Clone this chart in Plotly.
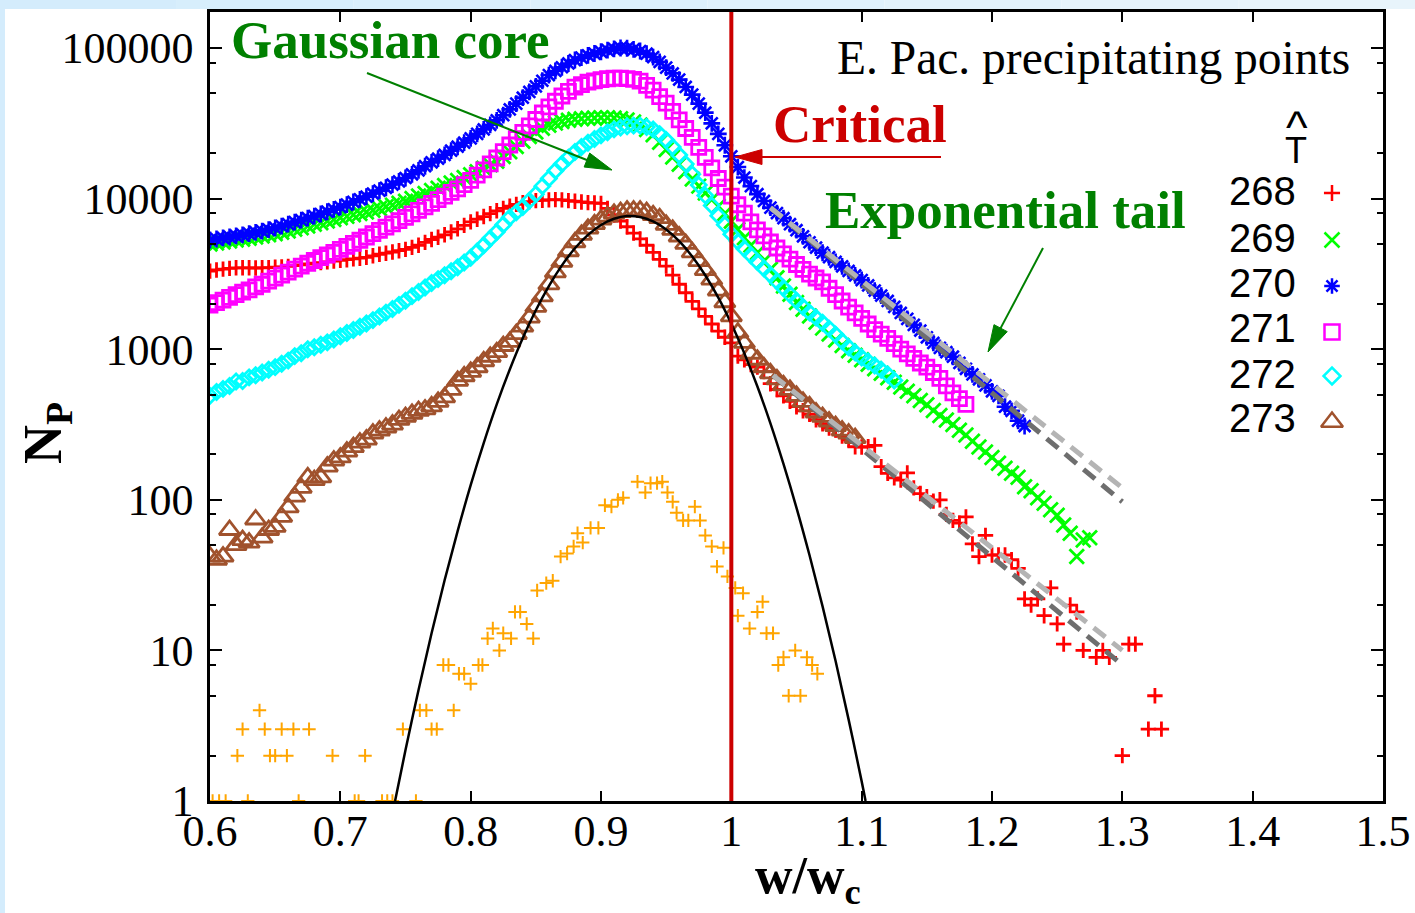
import math
import plotly.graph_objects as go

# ---------------------------------------------------------------------------
# Data: number of precipitating points N_P per w/w_c bin, one list per T-hat
# ---------------------------------------------------------------------------
w_bins = [round(0.6 + 0.005 * i, 3) for i in range(147)]

n_268 = [
    3300, 3360, 3400, 3440, 3470, 3470, 3470, 3460, 3470, 3480,
    3500, 3520, 3550, 3590, 3630, 3680, 3720, 3760, 3800, 3850,
    3890, 3930, 3980, 4020, 4070, 4170, 4270, 4340, 4420, 4510,
    4600, 4740, 4900, 5120, 5350, 5540, 5750, 6010, 6300, 6640,
    7000, 7300, 7600, 7950, 8300, 8600, 8900, 9150, 9400, 9550,
    9700, 9750, 9800, 9850, 9800, 9700, 9600, 9500, 9400, 9350,
    9300, 8600, 7800, 7100, 6500, 5900, 5400, 4900, 4400, 3950,
    3560, 3100, 2700, 2370, 2080, 1850, 1650, 1470, 1320, 1200,
    1100, 900, 850, 790, 760, 710, 590, 540, 490, 450,
    415, 390, 370, 340, 320, 300, 290, 265, 250, 225,
    224, 225, 230, 166, 150, 140, 135, 151, 120, 110,
    105, 98, 100, 80, 73, 70, 77, 51, 42, 58,
    43, 43, 43, 40, 35, 22, 20, 22, 17, 26,
    15, 11, 20, 18, 10, None, 9, 10, 9, None,
    2, 11, 11, None, 3, 5, 3,
]

n_269 = [
    5000, 5080, 5150, 5220, 5300, 5370, 5450, 5550, 5650, 5750,
    5850, 5970, 6100, 6250, 6400, 6570, 6750, 6920, 7100, 7270,
    7450, 7620, 7800, 7970, 8150, 8370, 8600, 8820, 9050, 9320,
    9600, 10000, 10400, 10800, 11300, 11700, 12200, 12700, 13200, 13800,
    14400, 15100, 15900, 16800, 17700, 19000, 20500, 22200, 24000, 25800,
    27700, 29300, 30700, 31700, 32500, 33100, 33600, 33900, 34200, 34300,
    34400, 34400, 34300, 33900, 33300, 32200, 30800, 28800, 26500, 23700,
    21200, 18900, 16900, 15100, 13500, 12100, 10900, 9850, 8910, 7950,
    7080, 6240, 5500, 4900, 4370, 3850, 3390, 2980, 2630, 2320,
    2040, 1840, 1660, 1510, 1380, 1260, 1150, 1060, 977, 912,
    851, 794, 741, 692, 646, 603, 562, 525, 490, 457,
    427, 392, 363, 339, 316, 290, 269, 245, 224, 208,
    191, 175, 162, 150, 141, 122, 115, 103, 95, 86,
    79, 68, 60, 42, 54, 56,
]

n_270 = [
    5310, 5390, 5480, 5560, 5650, 5750, 5850, 5960, 6080, 6220,
    6380, 6570, 6770, 6980, 7190, 7410, 7640, 7900, 8180, 8480,
    8790, 9130, 9510, 9890, 10300, 10800, 11300, 11800, 12400, 13000,
    13700, 14500, 15400, 16400, 17400, 18400, 19500, 20800, 22100, 23500,
    25100, 26900, 28800, 30900, 33100, 35800, 39100, 42700, 46800, 51100,
    55600, 60600, 66100, 70400, 74500, 78900, 83200, 86300, 89200, 91900,
    94400, 96800, 98800, 100000, 99600, 97900, 95500, 91700, 87100, 80900,
    74100, 67800, 61700, 55100, 49000, 42700, 37200, 31600, 26900, 22600,
    19100, 16200, 13800, 12100, 10700, 9640, 8710, 8020, 7410, 6760,
    6170, 5620, 5130, 4730, 4370, 4080, 3800, 3550, 3310, 3090,
    2880, 2650, 2450, 2270, 2090, 1910, 1740, 1590, 1450, 1330,
    1200, 1100, 1020, 955, 891, 810, 741, 680, 631, 575,
    525, 490, 415, 390, 335, 309,
]

n_271 = [
    1960, 2040, 2120, 2210, 2300, 2390, 2480, 2590, 2700, 2830,
    2960, 3100, 3250, 3400, 3560, 3720, 3880, 4050, 4220, 4400,
    4600, 4810, 5040, 5290, 5560, 5850, 6160, 6470, 6800, 7140,
    7500, 7910, 8350, 8810, 9300, 9840, 10400, 11000, 11600, 12400,
    13200, 14300, 15500, 17000, 18600, 20500, 22700, 25000, 27500, 30400,
    33500, 37000, 40700, 44300, 48000, 51500, 55000, 57200, 59300, 60500,
    61700, 62500, 63000, 63100, 62600, 61800, 60300, 56500, 52500, 47600,
    43000, 37900, 33300, 29200, 25500, 21900, 18800, 16000, 13600, 11900,
    10400, 9100, 8000, 7000, 6200, 5650, 5150, 4700, 4300, 3960,
    3650, 3390, 3150, 2970, 2800, 2540, 2300, 2090, 1900, 1740,
    1600, 1470, 1350, 1260, 1180, 1090, 1000, 930, 870, 810,
    760, 700, 640, 570, 513, 470, 430,
]

n_272 = [
    490, 520, 545, 570, 610, 615, 650, 672, 700, 730,
    760, 800, 840, 900, 940, 1000, 1030, 1070, 1110, 1160,
    1220, 1280, 1340, 1410, 1480, 1560, 1650, 1750, 1850, 1970,
    2100, 2250, 2400, 2570, 2750, 2920, 3100, 3290, 3500, 3760,
    4050, 4450, 4900, 5430, 6000, 6700, 7500, 8100, 8800, 9700,
    10700, 12100, 13600, 15300, 17000, 18700, 20400, 22000, 23500, 24900,
    26300, 27600, 28800, 29600, 30200, 30500, 30500, 29900, 28800, 26800,
    24500, 22000, 19500, 17000, 14500, 12300, 10500, 9000, 7700, 6700,
    5800, 5180, 4650, 4200, 3800, 3440, 3120, 2820, 2550, 2310,
    2100, 1910, 1750, 1620, 1500, 1370, 1250, 1130, 1030, 950,
    880, 830, 780, 730, 680, 620,
]

n_273 = [
    42, 40, 42, 63, 50, 54, 52, 74, 56, 63,
    66, 77, 89, 105, 120, 141, 135, 141, 166, 182,
    191, 209, 224, 240, 251, 275, 288, 302, 316, 339,
    355, 372, 389, 398, 417, 447, 479, 537, 617, 661,
    708, 759, 832, 891, 955, 1050, 1120, 1260, 1410, 1620,
    1910, 2240, 2690, 3240, 3800, 4470, 5130, 5750, 6310, 6760,
    7240, 7590, 7940, 8130, 8320, 8320, 8320, 8130, 7760, 7410,
    6700, 6200, 5600, 5000, 4400, 3850, 3350, 2900, 2450, 2050,
    1650, 1290, 1100, 933, 851, 759, 692, 631, 575, 537,
    490, 447, 417, 380, 355, 331, 309, 288, 275, 257,
]

# sparse sample (no legend entry)
extra_w = [
    0.602, 0.607, 0.612, 0.621, 0.625, 0.629, 0.638, 0.642, 0.646, 0.650,
    0.655, 0.659, 0.664, 0.668, 0.676, 0.694, 0.711, 0.714, 0.719, 0.732,
    0.736, 0.740, 0.748, 0.758, 0.761, 0.766, 0.770, 0.774, 0.779, 0.783,
    0.787, 0.791, 0.795, 0.800, 0.806, 0.809, 0.813, 0.817, 0.822, 0.825,
    0.831, 0.834, 0.838, 0.843, 0.848, 0.851, 0.858, 0.863, 0.869, 0.874,
    0.879, 0.882, 0.886, 0.892, 0.898, 0.903, 0.908, 0.913, 0.917, 0.928,
    0.934, 0.938, 0.943, 0.947, 0.951, 0.955, 0.958, 0.963, 0.967, 0.972,
    0.976, 0.980, 0.985, 0.989, 0.994, 0.997, 1.003, 1.005, 1.009, 1.014,
    1.020, 1.024, 1.027, 1.032, 1.036, 1.040, 1.044, 1.049, 1.053, 1.058,
    1.062, 1.066,
]
extra_n = [
    1, 1, 1, 2, 3, 1, 4, 3, 2, 2,
    3, 2, 3, 1, 3, 2, 1, 1, 2, 1,
    1, 1, 3, 1, 4, 4, 3, 3, 8, 8,
    4, 7, 7, 6, 8, 8, 12, 14, 10, 13,
    12, 18, 18, 15, 12, 25, 28, 29, 42, 44,
    49, 60, 52, 65, 65, 92, 90, 100, 103, 132,
    112, 129, 129, 132, 112, 97, 82, 73, 73, 90,
    73, 58, 49, 36, 48, 31, 26, 17, 24, 14,
    18, 21, 13, 13, 8, 9, 5, 10, 5, 9,
    8, 7,
]

# Gaussian core (parabola in log N), sampled
gauss_w = [0.742, 0.75, 0.76, 0.77, 0.78, 0.79, 0.80, 0.81, 0.82, 0.83,
           0.84, 0.85, 0.86, 0.87, 0.88, 0.89, 0.90, 0.91, 0.92, 0.93,
           0.94, 0.95, 0.96, 0.97, 0.98, 0.99, 1.00, 1.01, 1.02, 1.03,
           1.04, 1.05, 1.06, 1.07, 1.08, 1.09, 1.10, 1.103]
gauss_n = [1.0, 2.18, 5.46, 13.0, 29.2, 62, 125, 238, 430, 733,
           1186, 1814, 2626, 3602, 4677, 5741, 6683, 7350, 7660, 7551,
           7056, 6237, 5215, 4130, 3097, 2198, 1476, 938, 565, 322,
           173, 88.5, 42.8, 19.6, 8.5, 3.47, 1.35, 1.0]

# exponential-tail fits (end points)
fit_hi_w = [1.03, 1.30]
fit_hi_a = [8700, 120]
fit_hi_b = [8700, 97]
fit_lo_w = [1.032, 1.30]
fit_lo_a = [670, 10]
fit_lo_b = [670, 8]

legend_labels = ["268", "269", "270", "271", "272", "273"]

x_ticks = [0.6, 0.7, 0.8, 0.9, 1.0, 1.1, 1.2, 1.3, 1.4, 1.5]
x_tick_text = ["0.6", "0.7", "0.8", "0.9", "1", "1.1", "1.2", "1.3", "1.4", "1.5"]
y_ticks = [1, 10, 100, 1000, 10000, 100000]
y_tick_text = ["1", "10", "100", "1000", "10000", "100000"]
y_minor = [m * 10 ** k for k in range(6) for m in (2, 5, 8)]

# ---------------------------------------------------------------------------
# Page geometry
# ---------------------------------------------------------------------------
W, H = 1415, 913
ML, MR, MT, MB = 210, 32, 12, 112
PW, PH = W - ML - MR, H - MT - MB


def px(x):
    return (x - ML) / PW


def py(y):
    return (H - MB - y) / PH


RED, GREEN, BLUE = "#ff0000", "#00ff00", "#0000ff"
MAGENTA, CYAN, BROWN, ORANGE = "#ff00ff", "#00ffff", "#a0522d", "#ffa500"
DARKGREEN, CRIT = "#008000", "#cc0000"
SERIF, SANS = "Liberation Serif", "Liberation Sans"

styles = [
    (n_268, "cross-thin", RED, 11, 2.8),
    (n_269, "x-thin", GREEN, 14.5, 2.8),
    (n_270, "asterisk", BLUE, 14, 2.6),
    (n_271, "square-open", MAGENTA, 14, 2.8),
    (n_272, "diamond-open", CYAN, 11.5, 2.8),
    (n_273, "triangle-up-open", BROWN, 18, 2.8),
]

fig = go.Figure()
for (vals, sym, col, size, lw), lab in zip(styles, legend_labels):
    fig.add_trace(go.Scatter(
        x=w_bins[:len(vals)], y=vals, mode="markers", name=lab, showlegend=False,
        marker=dict(symbol=sym, size=size, color=col, line=dict(color=col, width=lw)),
    ))

fig.add_trace(go.Scatter(
    x=extra_w, y=extra_n, mode="markers", showlegend=False,
    marker=dict(symbol="cross-thin", size=9.5, color=ORANGE, line=dict(color=ORANGE, width=2)),
))

fig.add_trace(go.Scatter(
    x=gauss_w, y=gauss_n, mode="lines", showlegend=False,
    line=dict(color="black", width=2.5, shape="spline"),
))

for fw, fa, fb in [(fit_hi_w, fit_hi_a, fit_hi_b), (fit_lo_w, fit_lo_a, fit_lo_b)]:
    fig.add_trace(go.Scatter(x=fw, y=fb, mode="lines", showlegend=False,
                             line=dict(color="#6e6e6e", width=5, dash="15px,9px")))
    fig.add_trace(go.Scatter(x=fw, y=fa, mode="lines", showlegend=False,
                             line=dict(color="#b4b4b4", width=5, dash="15px,9px")))

# legend keys on an overlay axis spanning the plot area
key_x = px(1332)
key_y = [py(v) for v in (193, 240, 286, 332, 376, 422)]
key_sizes = [11.5, 15, 13, 15, 13, 19]
for (vals, sym, col, size, lw), ky, ks in zip(styles, key_y, key_sizes):
    fig.add_trace(go.Scatter(
        x=[key_x], y=[ky], xaxis="x2", yaxis="y2", mode="markers", showlegend=False,
        cliponaxis=False,
        marker=dict(symbol=sym, size=ks, color=col, line=dict(color=col, width=2.5)),
    ))

# ---------------------------------------------------------------------------
# Shapes: page strips, critical line, arrows
# ---------------------------------------------------------------------------
shapes = []
strip_cols = ["#d4ecfc", "#d7eefc", "#daeffc", "#ddf0fc", "#e0f1fc", "#e3f2fb", "#e6f3fb", "#e8f4fb"]
nseg = len(strip_cols)
for i, c in enumerate(strip_cols):
    shapes.append(dict(type="rect", xref="paper", yref="paper", layer="below",
                       x0=px(W * i / nseg), x1=px(W * (i + 1) / nseg), y0=py(9), y1=py(0),
                       fillcolor=c, line=dict(width=0)))
shapes.append(dict(type="rect", xref="paper", yref="paper", layer="below",
                   x0=px(0), x1=px(5), y0=py(H), y1=py(0),
                   fillcolor="#d4ecfc", line=dict(width=0)))

shapes.append(dict(type="line", xref="x", yref="paper", x0=1.0, x1=1.0, y0=0, y1=1,
                   line=dict(color=CRIT, width=4)))


def arrow(tail, tip, color, head_len=27.0, head_w=15.0, width=2.0):
    (x0, y0), (x1, y1) = tail, tip
    dx, dy = x1 - x0, y1 - y0
    d = math.hypot(dx, dy)
    ux, uy = dx / d, dy / d
    bx, by = x1 - ux * (head_len - 2), y1 - uy * (head_len - 2)
    hx, hy = x1 - ux * head_len, y1 - uy * head_len
    nx, ny = -uy * head_w / 2, ux * head_w / 2
    return [
        dict(type="line", xref="paper", yref="paper",
             x0=px(x0), y0=py(y0), x1=px(bx), y1=py(by),
             line=dict(color=color, width=width)),
        dict(type="path", xref="paper", yref="paper",
             path=(f"M{px(x1)},{py(y1)} L{px(hx + nx)},{py(hy + ny)} "
                   f"L{px(hx - nx)},{py(hy - ny)} Z"),
             fillcolor=color, line=dict(color=color, width=1)),
    ]


shapes += arrow((367, 73), (612, 170), DARKGREEN)
shapes += arrow((1043, 248), (988, 352), DARKGREEN)
shapes += arrow((941, 157), (735, 157), CRIT)

# ---------------------------------------------------------------------------
# Text
# ---------------------------------------------------------------------------
ann = []


def label(text, x, y, size, color="black", family=SERIF, xanchor="center", angle=0):
    ann.append(dict(text=text, x=px(x), y=py(y), xref="paper", yref="paper",
                    xanchor=xanchor, yanchor="middle", showarrow=False, textangle=angle,
                    font=dict(family=family, size=size, color=color)))


label("<b>Gaussian core</b>", 390, 40, 53, DARKGREEN)
label("<b>Critical</b>", 860, 124, 53, CRIT)
label("<b>Exponential tail</b>", 1005, 210, 53, DARKGREEN)
label("E. Pac. precipitating points", 1093, 58, 47.5)
label("^", 1297, 127, 46, family=SANS)
label("T", 1296, 150, 36, family=SANS)
for lab, yy in zip(legend_labels, (191, 238, 283, 328, 374, 418)):
    label(lab, 1298, yy, 40, family=SANS, xanchor="right")
label("<b>N<sub>P</sub></b>", 47, 433, 54, angle=-90)
label("<b>w/w<sub>c</sub></b>", 808, 879, 52)

tickfont = dict(family=SERIF, size=44, color="black")
fig.update_layout(
    width=W, height=H, autosize=False,
    margin=dict(l=ML, r=MR, t=MT, b=MB, pad=0, autoexpand=False),
    paper_bgcolor="white", plot_bgcolor="white",
    showlegend=False,
    shapes=shapes, annotations=ann,
    xaxis=dict(range=[0.6, 1.5], tickmode="array", tickvals=x_ticks, ticktext=x_tick_text,
               ticks="inside", ticklen=10, tickwidth=2, tickcolor="black",
               showline=True, linecolor="black", linewidth=2.5, mirror="ticks",
               showgrid=False, zeroline=False, tickfont=tickfont, ticklabelstandoff=-11,
               automargin=False),
    yaxis=dict(type="log", range=[0, 5.239], tickmode="array", tickvals=y_ticks,
               ticktext=y_tick_text, ticks="inside", ticklen=12, tickwidth=2,
               tickcolor="black", showline=True, linecolor="black", linewidth=2.5,
               mirror="ticks", showgrid=False, zeroline=False, tickfont=tickfont,
               ticklabelstandoff=5, automargin=False,
               minor=dict(tickmode="array", tickvals=y_minor, ticks="inside", ticklen=6,
                          tickwidth=2, tickcolor="black", showgrid=False)),
    xaxis2=dict(range=[0, 1], overlaying="x", visible=False, automargin=False),
    yaxis2=dict(range=[0, 1], overlaying="y", visible=False, automargin=False),
)

fig.write_html("out.html")
